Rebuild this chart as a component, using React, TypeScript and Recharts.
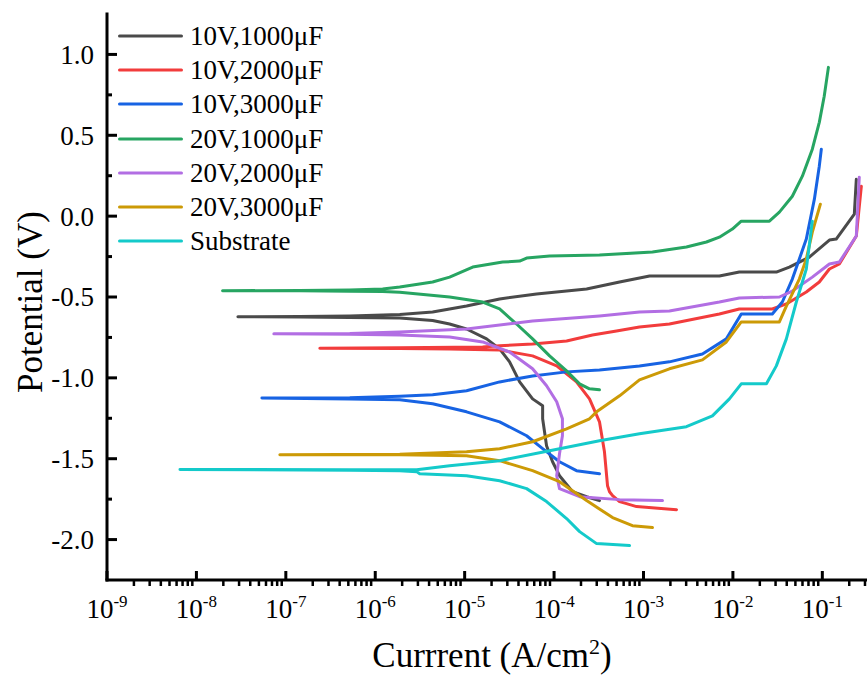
import React from "react";
import { LineChart, Line, XAxis, YAxis, Legend } from "recharts";

const FONT = "'Liberation Serif', 'Times New Roman', Times, serif";

// [current density (A/cm2), potential (V)], cathodic end -> Ecorr -> anodic end
const v10c1000: [number, number][] = [
  [3.22e-4, -1.759], [2.31e-4, -1.735], [1.61e-4, -1.704], [1.15e-4, -1.605], [9.62e-5, -1.519],
  [8.24e-5, -1.42], [7.45e-5, -1.253], [7.45e-5, -1.173], [5.75e-5, -1.13], [4.12e-5, -1.025],
  [3.18e-5, -0.901], [2.46e-5, -0.821], [1.76e-5, -0.759], [1.05e-5, -0.698], [6.79e-6, -0.667],
  [4.38e-6, -0.645], [1.88e-6, -0.63], [5.19e-7, -0.626], [1.43e-7, -0.623], [2.91e-8, -0.622],
  [1.43e-7, -0.62], [5.19e-7, -0.617], [1.88e-6, -0.608], [4.38e-6, -0.593], [1.05e-5, -0.556],
  [2.46e-5, -0.512], [6.37e-5, -0.481], [2.31e-4, -0.451], [5.4e-4, -0.407], [1.17e-3, -0.37],
  [7.06e-3, -0.37], [1.18e-2, -0.346], [3.06e-2, -0.346], [4.28e-2, -0.315], [7.16e-2, -0.253],
  [0.12, -0.148], [0.143, -0.142], [0.228, 0.012], [0.24, 0.228],
];

const v10c2000: [number, number][] = [
  [2.34e-3, -1.815], [8.36e-4, -1.796], [6.46e-4, -1.778], [5.4e-4, -1.765], [4.51e-4, -1.728],
  [4.17e-4, -1.704], [3.96e-4, -1.667], [3.66e-4, -1.457], [3.22e-4, -1.272], [2.49e-4, -1.13],
  [1.78e-4, -1.025], [1.07e-4, -0.926], [5.75e-5, -0.864], [2.46e-5, -0.827], [6.79e-6, -0.821],
  [1.88e-6, -0.818], [2.4e-7, -0.817], [1.88e-6, -0.814], [1.59e-5, -0.809], [2.46e-5, -0.802],
  [5.75e-5, -0.79], [1.38e-4, -0.772], [2.69e-4, -0.735], [4.99e-4, -0.71], [9.02e-4, -0.685],
  [1.95e-3, -0.667], [7.06e-3, -0.605], [1.18e-2, -0.574], [2.76e-2, -0.574], [3.96e-2, -0.543],
  [6.62e-2, -0.469], [9.25e-2, -0.407], [0.12, -0.327], [0.155, -0.296], [0.24, -0.123],
  [0.273, 0.185],
];

const v10c3000: [number, number][] = [
  [3.22e-4, -1.593], [1.78e-4, -1.574], [1.15e-4, -1.519], [7.45e-5, -1.438], [4.93e-5, -1.358],
  [2.46e-5, -1.272], [1.05e-5, -1.21], [4.38e-6, -1.16], [1.88e-6, -1.136], [5.19e-7, -1.13],
  [5.4e-8, -1.125], [5.19e-7, -1.123], [1.88e-6, -1.114], [4.38e-6, -1.105], [1.05e-5, -1.08],
  [2.46e-5, -1.025], [5.75e-5, -0.988], [1.38e-4, -0.963], [3.22e-4, -0.951], [9.02e-4, -0.926],
  [1.95e-3, -0.901], [4.56e-3, -0.852], [8.45e-3, -0.759], [1.24e-2, -0.605], [2.76e-2, -0.605],
  [3.57e-2, -0.531], [4.62e-2, -0.389], [6.62e-2, -0.142], [8.15e-2, 0.105], [9.25e-2, 0.309],
  [9.75e-2, 0.414],
];

const v20c1000: [number, number][] = [
  [3.22e-4, -1.074], [2.49e-4, -1.068], [1.93e-4, -1.037], [1.38e-4, -0.957], [8.91e-5, -0.864],
  [5.75e-5, -0.759], [3.81e-5, -0.667], [2.46e-5, -0.574], [1.59e-5, -0.531], [6.79e-6, -0.5],
  [1.88e-6, -0.47], [1.21e-6, -0.466], [5.19e-7, -0.464], [1.43e-7, -0.462], [1.96e-8, -0.461],
  [1.43e-7, -0.46], [5.19e-7, -0.457], [1.21e-6, -0.451], [1.88e-6, -0.438], [4.38e-6, -0.407],
  [6.79e-6, -0.377], [1.23e-5, -0.315], [2.66e-5, -0.284], [4.12e-5, -0.278], [4.93e-5, -0.259],
  [8.91e-5, -0.247], [3.22e-4, -0.241], [1.26e-3, -0.222], [3.02e-3, -0.191], [5.06e-3, -0.16],
  [7.06e-3, -0.13], [9.86e-3, -0.08], [1.24e-2, -0.031], [2.56e-2, -0.031], [3.31e-2, 0.025],
  [4.62e-2, 0.123], [5.98e-2, 0.247], [7.73e-2, 0.414], [9.25e-2, 0.58], [0.105, 0.741],
  [0.117, 0.92],
];

const v20c2000: [number, number][] = [
  [1.63e-3, -1.759], [5.4e-4, -1.753], [1.93e-4, -1.735], [1.15e-4, -1.685], [1.07e-4, -1.605],
  [1.15e-4, -1.469], [1.24e-4, -1.358], [1.24e-4, -1.253], [1.07e-4, -1.148], [8.24e-5, -1.049],
  [5.75e-5, -0.944], [3.18e-5, -0.84], [1.59e-5, -0.778], [6.79e-6, -0.747], [1.88e-6, -0.735],
  [5.19e-7, -0.731], [7.35e-8, -0.728], [5.19e-7, -0.725], [1.88e-6, -0.716], [1.05e-5, -0.698],
  [5.75e-5, -0.648], [3.22e-4, -0.617], [9.02e-4, -0.593], [1.95e-3, -0.586], [7.06e-3, -0.531],
  [1.18e-2, -0.506], [3.31e-2, -0.5], [4.62e-2, -0.463], [7.73e-2, -0.377], [0.12, -0.296],
  [0.155, -0.284], [0.24, -0.123], [0.259, 0.241],
];

const v20c3000: [number, number][] = [
  [1.26e-3, -1.926], [7.53e-4, -1.914], [4.51e-4, -1.864], [2.31e-4, -1.759], [1.15e-4, -1.642],
  [5.75e-5, -1.574], [2.46e-5, -1.512], [1.05e-5, -1.481], [1.88e-6, -1.476], [8.57e-8, -1.475],
  [1.88e-6, -1.472], [1.05e-5, -1.457], [2.46e-5, -1.438], [5.75e-5, -1.395], [1.38e-4, -1.315],
  [2.49e-4, -1.253], [2.99e-4, -1.21], [5.4e-4, -1.111], [9.02e-4, -1.012], [1.95e-3, -0.944],
  [4.56e-3, -0.889], [8.45e-3, -0.778], [1.24e-2, -0.654], [3.31e-2, -0.654], [3.96e-2, -0.556],
  [5.53e-2, -0.389], [6.62e-2, -0.265], [7.73e-2, -0.099], [9.51e-2, 0.074],
];

const substrate: [number, number][] = [
  [6.98e-4, -2.037], [2.99e-4, -2.025], [1.93e-4, -1.951], [1.38e-4, -1.87], [8.24e-5, -1.765],
  [4.93e-5, -1.685], [2.46e-5, -1.636], [1.05e-5, -1.605], [3.14e-6, -1.593], [2.91e-6, -1.58],
  [1.88e-6, -1.574], [5.19e-7, -1.571], [6.55e-9, -1.566], [5.19e-7, -1.568], [2.91e-6, -1.568],
  [6.79e-6, -1.543], [2.46e-5, -1.512], [8.91e-5, -1.451], [3.22e-4, -1.389], [9.02e-4, -1.346],
  [3.02e-3, -1.302], [5.9e-3, -1.235], [9.14e-3, -1.13], [1.24e-2, -1.037], [2.37e-2, -1.037],
  [3.06e-2, -0.926], [3.96e-2, -0.759], [5.12e-2, -0.531], [6.62e-2, -0.327], [7.73e-2, -0.031],
];

const seriesNames = [
  "10V,1000μF",
  "10V,2000μF",
  "10V,3000μF",
  "20V,1000μF",
  "20V,2000μF",
  "20V,3000μF",
  "Substrate",
];
const seriesColors = ["#4a4a4a", "#f23c3c", "#1763e3", "#27a562", "#b26ee3", "#cc9a06", "#14caca"];
const seriesValues = [v10c1000, v10c2000, v10c3000, v20c1000, v20c2000, v20c3000, substrate];

const xMajorTicks = [1e-9, 1e-8, 1e-7, 1e-6, 1e-5, 1e-4, 1e-3, 1e-2, 1e-1];
const xMinorSteps = [2, 3, 4, 5, 6, 7, 8, 9];
const yTicks = [-2.0, -1.75, -1.5, -1.25, -1.0, -0.75, -0.5, -0.25, 0, 0.25, 0.5, 0.75, 1.0];
const xDomain = [1e-9, 0.316];
const yDomain = [-2.25, 1.25];

const xTicks = [
  ...xMajorTicks,
  ...xMajorTicks.flatMap((t) => xMinorSteps.map((m) => m * t)),
].filter((t) => t <= xDomain[1]);

const serif = { fontFamily: FONT };

function XTick({ x, y, payload }: any) {
  const v = payload.value;
  const exp = Math.round(Math.log10(v));
  const major = Math.abs(v / Math.pow(10, exp) - 1) < 1e-6;
  if (!major) {
    return <line x1={x} x2={x} y1={y} y2={y + 6} stroke="#000" strokeWidth={2.5} />;
  }
  return (
    <g>
      <line x1={x} x2={x} y1={y} y2={y - 9} stroke="#000" strokeWidth={3} />
      <text x={x} y={y + 38} textAnchor="middle" style={serif} fontSize={27} fill="#000">
        10
        <tspan dy={-11} fontSize={17}>
          {String(exp)}
        </tspan>
      </text>
    </g>
  );
}

function YTick({ x, y, payload }: any) {
  const v = payload.value;
  const major = Math.abs(v * 2 - Math.round(v * 2)) < 1e-6;
  return (
    <g>
      <line x1={x} x2={x + (major ? 10 : 5)} y1={y} y2={y} stroke="#000" strokeWidth={3} />
      {major && (
        <text x={x - 13} y={y} dy="0.35em" textAnchor="end" style={serif} fontSize={27} fill="#000">
          {v.toFixed(1)}
        </text>
      )}
    </g>
  );
}

function LegendBox({ payload }: any) {
  return (
    <div style={{ fontFamily: FONT }}>
      {(payload || []).map((entry: any) => (
        <div key={entry.value} style={{ display: "flex", alignItems: "center", height: 34.2 }}>
          <svg width={65} height={6} style={{ display: "block" }}>
            <line x1={1.5} x2={63.5} y1={3} y2={3} stroke={entry.color} strokeWidth={3} strokeLinecap="round" />
          </svg>
          <span style={{ marginLeft: 7, fontSize: 27, color: "#000", lineHeight: "30px" }}>{entry.value}</span>
        </div>
      ))}
    </div>
  );
}

export default function App() {
  return (
    <div>
      <style>{"body{margin:0;overflow:hidden;background:#fff}"}</style>
      <LineChart
        width={867}
        height={678}
        margin={{ top: 14, right: 0, bottom: 68, left: 47 }}
        style={serif}
      >
        <XAxis
          dataKey="x"
          type="number"
          scale="log"
          domain={xDomain}
          allowDataOverflow
          ticks={xTicks}
          interval={0}
          height={30}
          tickSize={0}
          tickMargin={0}
          tickLine={false}
          tick={<XTick />}
          axisLine={{ stroke: "#000", strokeWidth: 3, strokeLinecap: "square" }}
          label={{
            content: () => (
              <text x={492} y={667} textAnchor="middle" style={serif} fontSize={35} fill="#000">
                Currrent (A/cm
                <tspan dy={-13} fontSize={22}>
                  2
                </tspan>
                <tspan dy={13}>)</tspan>
              </text>
            ),
          }}
        />
        <XAxis
          xAxisId="top"
          orientation="top"
          type="number"
          scale="log"
          domain={xDomain}
          allowDataOverflow
          height={0}
          tick={false}
          tickLine={false}
          axisLine={{ stroke: "#000", strokeWidth: 3, strokeLinecap: "square" }}
        />
        <YAxis
          type="number"
          domain={yDomain}
          allowDataOverflow
          ticks={yTicks}
          interval={0}
          width={60}
          tickSize={0}
          tickMargin={0}
          tickLine={false}
          tick={<YTick />}
          axisLine={{ stroke: "#000", strokeWidth: 3, strokeLinecap: "square" }}
          label={{
            content: () => (
              <text
                x={42}
                y={302}
                transform="rotate(-90, 42, 302)"
                textAnchor="middle"
                style={serif}
                fontSize={35}
                fill="#000"
              >
                Potential (V)
              </text>
            ),
          }}
        />
        <Legend
          layout="vertical"
          align="center"
          verticalAlign="middle"
          content={<LegendBox />}
          wrapperStyle={{ left: 118, top: 19, width: "auto" }}
        />
        {seriesValues.map((values, i) => (
          <Line
            key={seriesNames[i]}
            name={seriesNames[i]}
            data={values.map(([x, y]) => ({ x, y }))}
            dataKey="y"
            type="linear"
            stroke={seriesColors[i]}
            strokeWidth={3}
            strokeLinecap="round"
            strokeLinejoin="round"
            dot={false}
            activeDot={false}
            legendType="line"
            isAnimationActive={false}
          />
        ))}
      </LineChart>
    </div>
  );
}
